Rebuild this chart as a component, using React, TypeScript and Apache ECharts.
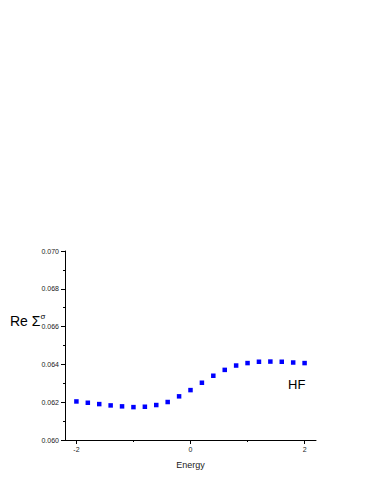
import React, { useEffect, useRef } from "react";
import * as echarts from "echarts";

const energy = [-2.0, -1.8, -1.6, -1.4, -1.2, -1.0, -0.8, -0.6, -0.4, -0.2, 0.0, 0.2, 0.4, 0.6, 0.8, 1.0, 1.2, 1.4, 1.6, 1.8, 2.0];
const reSigma = [0.06204, 0.06197, 0.0619, 0.06183, 0.06178, 0.06174, 0.06176, 0.06185, 0.06201, 0.06231, 0.06264, 0.06303, 0.0634, 0.06371, 0.06394, 0.06407, 0.06414, 0.06415, 0.06414, 0.0641, 0.06407];
const xMajorTicks = [-2, 0, 2];
const xMinorTicks = [-1, 1];

export default function App() {
  const ref = useRef<HTMLDivElement>(null);
  useEffect(() => {
    const chart = echarts.init(ref.current!, null, { renderer: "svg" });
    const font = "Liberation Sans, Arial, sans-serif";
    chart.setOption({
      animation: false,
      backgroundColor: "#ffffff",
      grid: { left: 65, right: 58, top: 251, bottom: 44 },
      xAxis: [
        {
          type: "value",
          min: -2.2,
          max: 2.2,
          axisLine: { show: true, onZero: false, lineStyle: { color: "#000", width: 1 } },
          axisTick: { show: true, customValues: xMajorTicks, length: 4, lineStyle: { color: "#000" } },
          axisLabel: { show: true, customValues: xMajorTicks, fontSize: 7, color: "#222", fontFamily: font, margin: 6 },
          splitLine: { show: false },
          name: "Energy",
          nameLocation: "middle",
          nameGap: 20,
          nameTextStyle: { fontSize: 9, color: "#222", fontFamily: font },
        },
        {
          type: "value",
          min: -2.2,
          max: 2.2,
          position: "bottom",
          axisLine: { show: false, onZero: false },
          axisTick: { show: true, customValues: xMinorTicks, length: 2, lineStyle: { color: "#000" } },
          axisLabel: { show: false },
          splitLine: { show: false },
        },
      ],
      yAxis: {
        type: "value",
        min: 0.06,
        max: 0.07,
        interval: 0.002,
        axisLine: { show: true, onZero: false, lineStyle: { color: "#000", width: 1 } },
        axisTick: { show: true, length: 4, lineStyle: { color: "#000" } },
        minorTick: { show: true, splitNumber: 2, length: 2, lineStyle: { color: "#000" } },
        axisLabel: {
          fontSize: 7,
          color: "#222",
          fontFamily: font,
          margin: 6,
          formatter: (v: number) => v.toFixed(3),
        },
        splitLine: { show: false },
      },
      graphic: [
        {
          type: "text",
          left: 10,
          top: 312,
          style: {
            text: "{a|Re Σ}{b|σ}",
            rich: {
              a: { fontSize: 14, fontFamily: font, fill: "#000" },
              b: { fontSize: 8, fontFamily: font, fill: "#000", padding: [0, 0, 10, 0] },
            },
          },
        },
        {
          type: "text",
          left: 288,
          top: 378,
          style: { text: "HF", fontSize: 13, fontFamily: font, fill: "#000" },
        },
      ],
      series: [
        {
          type: "scatter",
          xAxisIndex: 0,
          data: energy.map((e, i) => [e, reSigma[i]]),
          symbol: "rect",
          symbolSize: 4.5,
          itemStyle: { color: "#0000ff", opacity: 1 },
        },
      ],
    });
    return () => chart.dispose();
  }, []);
  return <div ref={ref} style={{ width: 374, height: 484, position: "absolute", left: 0, top: 0 }} />;
}
